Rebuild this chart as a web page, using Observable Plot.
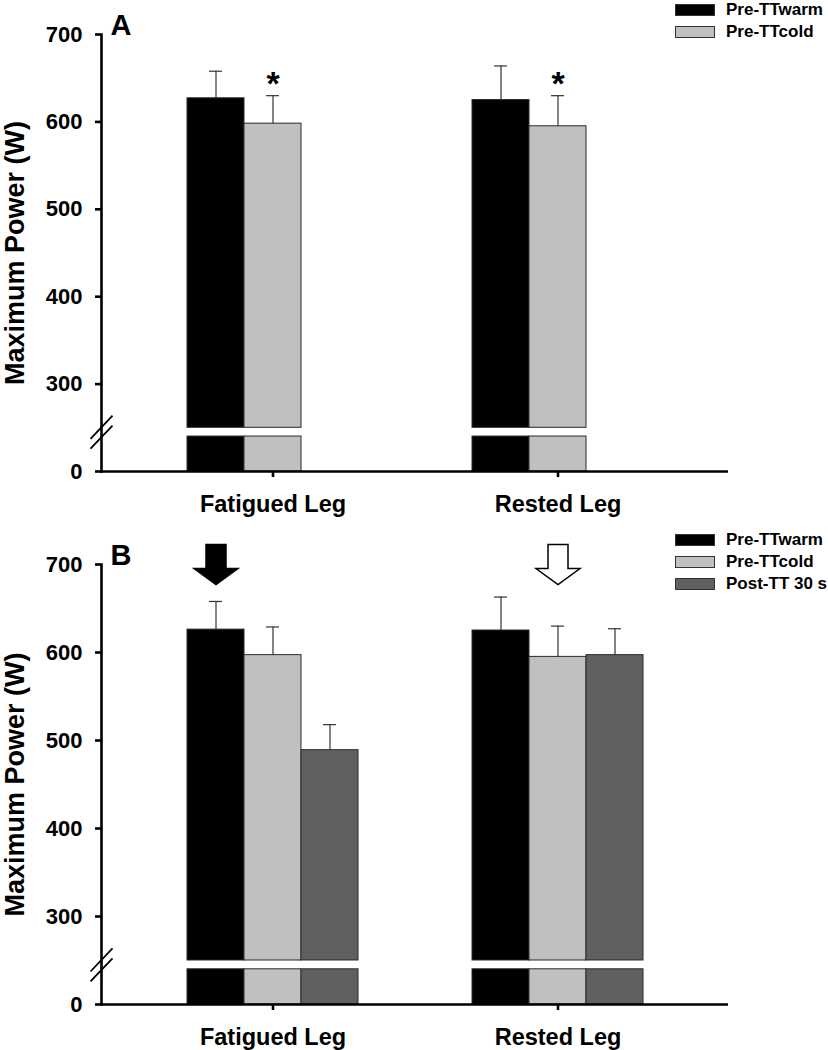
<!DOCTYPE html>
<html><head><meta charset="utf-8">
<script src="https://cdn.jsdelivr.net/npm/d3@7"></script>
<script src="https://cdn.jsdelivr.net/npm/@observablehq/plot@0.6"></script>
<style>
body{margin:0;background:#fff;font-family:"Liberation Sans",Arial,sans-serif;}
#wrap{position:relative;width:828px;height:1050px;overflow:hidden;}
.panel{position:absolute;left:0;}
.legend{position:absolute;left:675px;font-weight:bold;font-size:17px;color:#000;}
.row{position:absolute;left:0;white-space:nowrap;display:flex;align-items:center;height:22px;}
.sw{width:38px;height:10px;border:1px solid #333;margin-right:11px;box-sizing:content-box;}
</style></head><body><div id="wrap"></div>
<script>
// ---- data ----
const legs = ["Fatigued Leg", "Rested Leg"];
const series = ["Pre-TTwarm", "Pre-TTcold", "Post-TT 30 s"];
const colors = ["#000000", "#c0c0c0", "#606060"];
const yTicks = [0, 300, 400, 500, 600, 700];
const breakLow = 40, breakHigh = 250, yMax = 700;   // y axis break between 40 and 250 W

// Panel A (mean, SE) per leg
const aWarm = [627, 625], aWarmSE = [31, 39];
const aCold = [598, 595], aColdSE = [32, 35];
// Panel B
const bWarm = [626, 625], bWarmSE = [32, 38];
const bCold = [597, 595], bColdSE = [32, 35];
const bPost = [489, 597], bPostSE = [29, 30];

const aStars = ["Pre-TTcold", "Pre-TTcold"];          // series marked * in each leg (panel A)
const bArrowSeries = ["Pre-TTwarm", "Pre-TTcold"];    // arrow position in each leg (panel B)
const bArrowFilled = [true, false];

// ---- broken-axis mapping (value -> compressed axis units) ----
const gapUnits = 10;
const cut = breakHigh - breakLow - gapUnits;
const br = v => (v >= breakHigh ? v - cut : v);
const unbr = t => (t > breakLow ? t + cut : t);

// ---- helpers ----
const key = (leg, s) => leg + "|" + s;
const gapKeys = ["gap1", "gap2"]; // empty slots between the two leg groups
const xDomain = legs.flatMap((leg, i) => [...series.map(s => key(leg, s)), ...(i < legs.length - 1 ? gapKeys : [])]);
const centerKeys = legs.map(leg => key(leg, series[1]));

function rowsOf(list) {
  const out = [];
  list.forEach(([s, means, ses]) => legs.forEach((leg, i) =>
    out.push({leg, series: s, k: key(leg, s), value: means[i], top: means[i] + ses[i]})));
  return out;
}
const rowsA = rowsOf([[series[0], aWarm, aWarmSE], [series[1], aCold, aColdSE]]);
const rowsB = rowsOf([[series[0], bWarm, bWarmSE], [series[1], bCold, bColdSE], [series[2], bPost, bPostSE]]);

const starsA = legs.map((leg, i) => rowsA.find(r => r.leg === leg && r.series === aStars[i]));
const arrowsB = legs.map((leg, i) => ({k: key(leg, bArrowSeries[i]), filled: bArrowFilled[i]}));

const arrowSymbol = {
  draw(ctx, size) {
    const r = Math.sqrt(size / Math.PI);
    ctx.moveTo(-0.5 * r, -r);
    ctx.lineTo(0.5 * r, -r);
    ctx.lineTo(0.5 * r, 0.2 * r);
    ctx.lineTo(1.1 * r, 0.2 * r);
    ctx.lineTo(0, r);
    ctx.lineTo(-1.1 * r, 0.2 * r);
    ctx.lineTo(-0.5 * r, 0.2 * r);
    ctx.closePath();
  }
};
const breakSymbol = {
  draw(ctx, size) {
    const s = Math.sqrt(size / Math.PI) / 10;
    ctx.moveTo(-10 * s, 6 * s); ctx.lineTo(10 * s, -15 * s);
    ctx.moveTo(-10 * s, 15 * s); ctx.lineTo(10 * s, -6 * s);
  }
};

function panel({rows, letter, height, marginTop, marginBottom, extra}) {
  return Plot.plot({
    width: 828, height, marginLeft: 101, marginRight: 100, marginTop, marginBottom,
    style: {fontFamily: '"Liberation Sans", Arial, sans-serif', background: "transparent", overflow: "visible", color: "#000"},
    x: {type: "band", domain: xDomain, paddingInner: 0, paddingOuter: 1.5},
    y: {domain: [0, br(yMax)]},
    color: {domain: series, range: colors},
    marks: [
      Plot.barY(rows, {x: "k", y1: br(breakHigh), y2: d => br(d.value), fill: "series", stroke: "#2a2a2a", strokeWidth: 1}),
      Plot.barY(rows, {x: "k", y1: 0, y2: breakLow, fill: "series", stroke: "#2a2a2a", strokeWidth: 1}),
      Plot.ruleX(rows, {x: "k", y1: d => br(d.value), y2: d => br(d.top), stroke: "#333", strokeWidth: 1.2}),
      Plot.tickY(rows, {x: "k", y: d => br(d.top), insetLeft: 22, insetRight: 22, stroke: "#333", strokeWidth: 1.2}),
      Plot.ruleY([0], {stroke: "#000", strokeWidth: 2.6}),
      Plot.frame({anchor: "left", stroke: "#000", strokeWidth: 2.6}),
      Plot.dot([breakLow + gapUnits / 2], {y: d => d, frameAnchor: "left", symbol: breakSymbol, r: 11, stroke: "#000", fill: "none", strokeWidth: 1.8}),
      Plot.axisY({ticks: yTicks.map(br), tickFormat: t => String(unbr(t)), tickSize: 6, tickPadding: 13, fontSize: 22, fontWeight: "bold", label: null, strokeWidth: 2.6}),
      Plot.axisX({ticks: centerKeys, tickFormat: k => k.split("|")[0], tickSize: 6, tickPadding: 18, fontSize: 23.5, fontWeight: "bold", label: null, strokeWidth: 2.6}),
      Plot.text(["Maximum Power (W)"], {frameAnchor: "left", textAnchor: "middle", lineAnchor: "middle", rotate: -90, dx: -86, fontSize: 27, fontWeight: "bold"}),
      Plot.text([letter], {frameAnchor: "top-left", textAnchor: "start", lineAnchor: "bottom", dx: 9, dy: 0, fontSize: 29, fontWeight: "bold"}),
      ...extra
    ]
  });
}

const wrap = document.getElementById("wrap");
function addLegend(top, items) {
  const lg = document.createElement("div");
  lg.className = "legend";
  lg.style.top = top + "px";
  items.forEach((s, i) => {
    const row = document.createElement("div");
    row.className = "row";
    row.style.top = (i * 22) + "px";
    const sw = document.createElement("div");
    sw.className = "sw";
    sw.style.background = colors[series.indexOf(s)];
    const t = document.createElement("span");
    t.textContent = s;
    row.appendChild(sw); row.appendChild(t);
    lg.appendChild(row);
  });
  wrap.appendChild(lg);
}

const chartA = panel({
  rows: rowsA, letter: "A", height: 525, marginTop: 34, marginBottom: 54,
  extra: [
    Plot.text(starsA, {x: "k", y: d => br(d.top), text: () => "*", lineAnchor: "bottom", dy: -1, fontSize: 34, fontWeight: "bold"})
  ]
});
chartA.classList.add("panel"); chartA.style.top = "0px";
wrap.appendChild(chartA);

const chartB = panel({
  rows: rowsB, letter: "B", height: 525, marginTop: 39, marginBottom: 46,
  extra: [
    Plot.dot(arrowsB.filter(d => d.filled), {x: "k", y: br(yMax), symbol: arrowSymbol, r: 20, fill: "#000", stroke: "#000", strokeWidth: 1.5}),
    Plot.dot(arrowsB.filter(d => !d.filled), {x: "k", y: br(yMax), symbol: arrowSymbol, r: 20, fill: "#fff", stroke: "#000", strokeWidth: 1.5})
  ]
});
chartB.classList.add("panel"); chartB.style.top = "525px";
wrap.appendChild(chartB);

addLegend(-1, series.slice(0, 2));
addLegend(529, series);
</script></body></html>
